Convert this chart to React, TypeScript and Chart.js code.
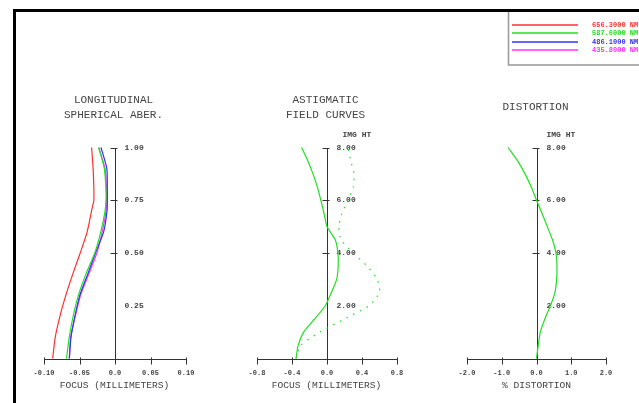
import React, { useEffect, useRef } from "react";
import { Chart, registerables } from "chart.js";

Chart.register(...registerables);

const W = 639;
const H = 403;

// ---------- Longitudinal spherical aberration ----------
const pupil = [0, 0.1, 0.2, 0.3, 0.4, 0.5, 0.6, 0.7, 0.75, 0.8, 0.9, 1.0];
const lsaRed = [-0.0878, -0.0842, -0.0776, -0.0692, -0.0595, -0.049, -0.0392, -0.033, -0.0298, -0.0298, -0.0308, -0.033];
const lsaGreen = [-0.0683, -0.0645, -0.059, -0.0515, -0.041, -0.0285, -0.02, -0.014, -0.0127, -0.0127, -0.015, -0.023];
const lsaBlue = [-0.0643, -0.062, -0.0565, -0.0495, -0.0384, -0.0275, -0.016, -0.0112, -0.0108, -0.0108, -0.0115, -0.0197];
const lsaMagenta = [-0.0643, -0.0625, -0.056, -0.0485, -0.037, -0.0255, -0.018, -0.0125, -0.0117, -0.012, -0.014, -0.0228];
const lsaXTicks = [-0.1, -0.05, 0, 0.05, 0.1];
const lsaXTickLabels = ["-0.10", "-0.05", "0.0", "0.05", "0.10"];
const lsaYTicks = [0.25, 0.5, 0.75, 1.0];
const lsaYTickLabels = ["0.25", "0.50", "0.75", "1.00"];

const wavelengths = ["656.3000 NM", "587.6000 NM", "486.1000 NM", "435.8000 NM"];
const waveColors = ["#ff3030", "#20e020", "#3030ff", "#ff30ff"];

// ---------- Astigmatic field curves ----------
const field = [0, 0.5, 1, 1.5, 2, 2.5, 3, 3.5, 4, 4.5, 5, 5.5, 6, 6.5, 7, 7.5, 8];
const astSolid = [-0.354, -0.33, -0.267, -0.14, -0.019, 0.05, 0.11, 0.128, 0.125, 0.094, 0.0, -0.034, -0.07, -0.11, -0.16, -0.22, -0.29];
const astDotted = [-0.354, -0.3, -0.08, 0.2, 0.48, 0.6, 0.575, 0.46, 0.3, 0.16, 0.135, 0.17, 0.24, 0.3, 0.31, 0.27, 0.24];
const astXTicks = [-0.8, -0.4, 0, 0.4, 0.8];
const astXTickLabels = ["-0.8", "-0.4", "0.0", "0.4", "0.8"];
const fieldTicks = [2, 4, 6, 8];
const fieldTickLabels = ["2.00", "4.00", "6.00", "8.00"];

// ---------- Distortion ----------
const distortion = [0, 0.05, 0.11, 0.24, 0.4, 0.53, 0.58, 0.59, 0.56, 0.46, 0.31, 0.16, 0.0, -0.15, -0.33, -0.55, -0.82];
const distXTicks = [-2, -1, 0, 1, 2];
const distXTickLabels = ["-2.0", "-1.0", "0.0", "1.0", "2.0"];

const FONT = '"Liberation Mono", "DejaVu Sans Mono", monospace';
const TEXT = "#444";
const AXIS = "#333";
const GREEN = "#20e020";

const zip = (xs: number[], ys: number[]) => xs.map((x, i) => ({ x, y: ys[i] }));

const axesPlugin = {
  id: "zaxes",
  beforeDatasetsDraw(chart: any, _args: any, o: any) {
    const ctx = chart.ctx;
    const xs = chart.scales.x;
    const ys = chart.scales.y;
    const r = (v: number) => Math.round(v) + 0.5;
    const x0 = r(xs.getPixelForValue(0));
    const yb = r(ys.getPixelForValue(0));
    const yt = r(ys.getPixelForValue(o.yMax));
    ctx.save();
    ctx.strokeStyle = AXIS;
    ctx.lineWidth = 1;
    ctx.beginPath();
    const xl = r(xs.getPixelForValue(o.xTicks[0]));
    const xr = r(xs.getPixelForValue(o.xTicks[o.xTicks.length - 1]));
    ctx.moveTo(xl, yb);
    ctx.lineTo(xr, yb);
    o.xTicks.forEach((t: number) => {
      const px = r(xs.getPixelForValue(t));
      ctx.moveTo(px, yb - 2);
      ctx.lineTo(px, yb + 5);
    });
    ctx.moveTo(x0, yt);
    ctx.lineTo(x0, yb);
    o.yTicks.forEach((t: number, i: number) => {
      if (i === 0) return;
      const py = r(ys.getPixelForValue(t));
      ctx.moveTo(x0 - 5, py);
      ctx.lineTo(x0 + 2, py);
    });
    ctx.stroke();

    ctx.fillStyle = TEXT;
    ctx.font = `bold 7px ${FONT}`;
    ctx.textAlign = "center";
    ctx.textBaseline = "middle";
    o.xTicks.forEach((t: number, i: number) => {
      ctx.fillText(o.xTickLabels[i], xs.getPixelForValue(t), 373);
    });
    ctx.textAlign = "left";
    ctx.font = `bold 8px ${FONT}`;
    o.yTicks.forEach((t: number, i: number) => {
      ctx.fillText(o.yTickLabels[i], x0 + 9, ys.getPixelForValue(t));
    });
    if (o.yTitle) {
      ctx.fillText(o.yTitle, x0 + o.yTitleDx, 135);
    }
    ctx.textAlign = "center";
    ctx.font = `11px ${FONT}`;
    o.title.forEach((line: string, i: number) => {
      ctx.fillText(line, x0 - 2, o.titleY + i * 15);
    });
    ctx.font = `9.6px ${FONT}`;
    ctx.fillText(o.xTitle, x0 - 1, 385);
    ctx.restore();
  },
};

const decorPlugin = {
  id: "decor",
  afterDraw(chart: any) {
    const ctx = chart.ctx;
    ctx.save();
    ctx.strokeStyle = "#000";
    ctx.lineWidth = 3;
    ctx.beginPath();
    ctx.moveTo(14.5, H);
    ctx.lineTo(14.5, 10.5);
    ctx.lineTo(W, 10.5);
    ctx.stroke();
    // legend box
    ctx.strokeStyle = "#999";
    ctx.lineWidth = 1.5;
    ctx.beginPath();
    ctx.moveTo(508.5, 12);
    ctx.lineTo(508.5, 65);
    ctx.lineTo(W, 65);
    ctx.stroke();
    ctx.font = `bold 7px ${FONT}`;
    ctx.textAlign = "left";
    ctx.textBaseline = "middle";
    wavelengths.forEach((wl, i) => {
      const y = Math.round(25 + i * 8.33);
      ctx.strokeStyle = waveColors[i];
      ctx.globalAlpha = 0.75;
      ctx.lineWidth = 2;
      ctx.beginPath();
      ctx.moveTo(512, y);
      ctx.lineTo(578, y);
      ctx.stroke();
      ctx.globalAlpha = 1;
      ctx.fillStyle = waveColors[i];
      ctx.fillText(wl, 592, y);
    });
    ctx.restore();
  },
};

type Panel = {
  left: number;
  right: number;
  xMin: number;
  xMax: number;
  yMax: number;
  datasets: any[];
  axes: any;
  extra?: any[];
};

const TOP = 147.5;
const BOTTOM = 358.5;

function makeConfig(p: Panel) {
  return {
    type: "scatter",
    data: { datasets: p.datasets },
    options: {
      responsive: false,
      animation: false,
      devicePixelRatio: 1,
      layout: {
        padding: { left: p.left, right: W - p.right, top: TOP, bottom: H - BOTTOM },
      },
      scales: {
        x: { type: "linear", min: p.xMin, max: p.xMax, display: false },
        y: { type: "linear", min: 0, max: p.yMax, display: false },
      },
      plugins: {
        legend: { display: false },
        tooltip: { enabled: false },
        zaxes: p.axes,
      },
      elements: { point: { radius: 0 } },
    },
    plugins: [axesPlugin, ...(p.extra || [])],
  } as any;
}

const lineDs = (data: any[], color: string, dash: number[] = []) => ({
  data,
  showLine: true,
  borderColor: color,
  backgroundColor: color,
  borderWidth: 1.2,
  borderDash: dash,
  pointRadius: 0,
  clip: false,
  tension: 0.2,
});

export default function App() {
  const c1 = useRef<HTMLCanvasElement>(null);
  const c2 = useRef<HTMLCanvasElement>(null);
  const c3 = useRef<HTMLCanvasElement>(null);

  useEffect(() => {
    const panels: Panel[] = [
      {
        left: 44,
        right: 186,
        xMin: -0.1,
        xMax: 0.1,
        yMax: 1,
        datasets: [
          lineDs(zip(lsaRed, pupil), waveColors[0]),
          lineDs(zip(lsaGreen, pupil), waveColors[1]),
          lineDs(zip(lsaBlue, pupil), waveColors[2]),
          lineDs(zip(lsaMagenta, pupil), waveColors[3]),
        ],
        axes: {
          yMax: 1,
          xTicks: lsaXTicks,
          xTickLabels: lsaXTickLabels,
          yTicks: lsaYTicks,
          yTickLabels: lsaYTickLabels,
          title: ["LONGITUDINAL", "SPHERICAL ABER."],
          titleY: 100.5,
          xTitle: "FOCUS (MILLIMETERS)",
        },
        extra: [decorPlugin],
      },
      {
        left: 257,
        right: 397,
        xMin: -0.8,
        xMax: 0.8,
        yMax: 8,
        datasets: [
          lineDs(zip(astSolid, field), GREEN),
          lineDs(zip(astDotted, field), GREEN, [1.5, 6]),
        ],
        axes: {
          yMax: 8,
          xTicks: astXTicks,
          xTickLabels: astXTickLabels,
          yTicks: fieldTicks,
          yTickLabels: fieldTickLabels,
          yTitle: "IMG HT",
          yTitleDx: 15,
          title: ["ASTIGMATIC", "FIELD CURVES"],
          titleY: 100.5,
          xTitle: "FOCUS (MILLIMETERS)",
        },
      },
      {
        left: 467,
        right: 606,
        xMin: -2,
        xMax: 2,
        yMax: 8,
        datasets: [lineDs(zip(distortion, field), GREEN)],
        axes: {
          yMax: 8,
          xTicks: distXTicks,
          xTickLabels: distXTickLabels,
          yTicks: fieldTicks,
          yTickLabels: fieldTickLabels,
          yTitle: "IMG HT",
          yTitleDx: 9,
          title: ["DISTORTION"],
          titleY: 107.5,
          xTitle: "% DISTORTION",
        },
      },
    ];
    const canvases = [c1.current!, c2.current!, c3.current!];
    const charts = panels.map((p, i) => new Chart(canvases[i], makeConfig(p)));
    return () => charts.forEach((c) => c.destroy());
  }, []);

  const cs: React.CSSProperties = { position: "absolute", left: 0, top: 0, width: W, height: H };
  return (
    <div style={{ position: "fixed", left: 0, top: 0, width: W, height: H, background: "#fff" }}>
      <canvas ref={c1} width={W} height={H} style={cs} />
      <canvas ref={c2} width={W} height={H} style={cs} />
      <canvas ref={c3} width={W} height={H} style={cs} />
    </div>
  );
}
